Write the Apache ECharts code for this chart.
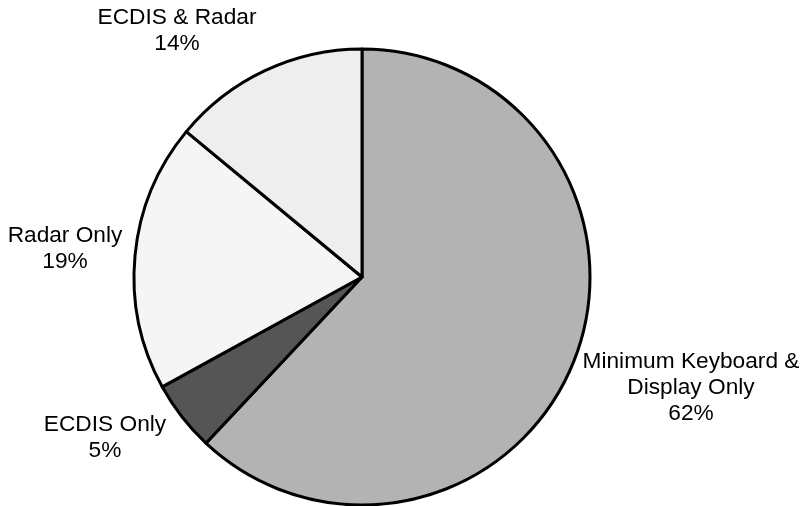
<!DOCTYPE html>
<html>
<head>
<meta charset="utf-8">
<style>
  html, body { margin: 0; padding: 0; background: #ffffff; }
  #chart { width: 801px; height: 506px; }
</style>
<script src="https://cdn.jsdelivr.net/npm/echarts@6/dist/echarts.min.js"></script>
</head>
<body>
<div id="chart"></div>
<script>
// Share of workstation configurations
const categories = [
  'Minimum Keyboard &\nDisplay Only',
  'ECDIS Only',
  'Radar Only',
  'ECDIS & Radar'
];
const shares = [62, 5, 19, 14];
const sliceColors = ['#b3b3b3', '#555555', '#f5f5f5', '#eeeeee'];

// Label anchor points (block centres) for each slice
const labelAnchors = [
  [691, 388],
  [105, 438],
  [65, 249],
  [177, 31]
];

const chart = echarts.init(document.getElementById('chart'), null, { renderer: 'canvas' });

chart.setOption({
  animation: false,
  backgroundColor: '#ffffff',
  series: [{
    type: 'pie',
    center: [362, 277],
    radius: 228,
    startAngle: 90,
    clockwise: true,
    silent: true,
    data: categories.map((name, i) => ({
      name: name,
      value: shares[i],
      itemStyle: { color: sliceColors[i] }
    })),
    itemStyle: {
      borderColor: '#000000',
      borderWidth: 3
    },
    label: {
      show: true,
      position: 'outside',
      formatter: '{b}\n{c}%',
      color: '#000000',
      fontFamily: 'Liberation Sans, Arial, sans-serif',
      fontSize: 22.7,
      lineHeight: 26,
      align: 'center',
      overflow: 'none',
      width: 260
    },
    labelLine: { show: false },
    labelLayout: function (params) {
      const p = labelAnchors[params.dataIndex];
      return { x: p[0], y: p[1], align: 'center', verticalAlign: 'middle' };
    },
    emphasis: { disabled: true }
  }]
});
</script>
</body>
</html>
